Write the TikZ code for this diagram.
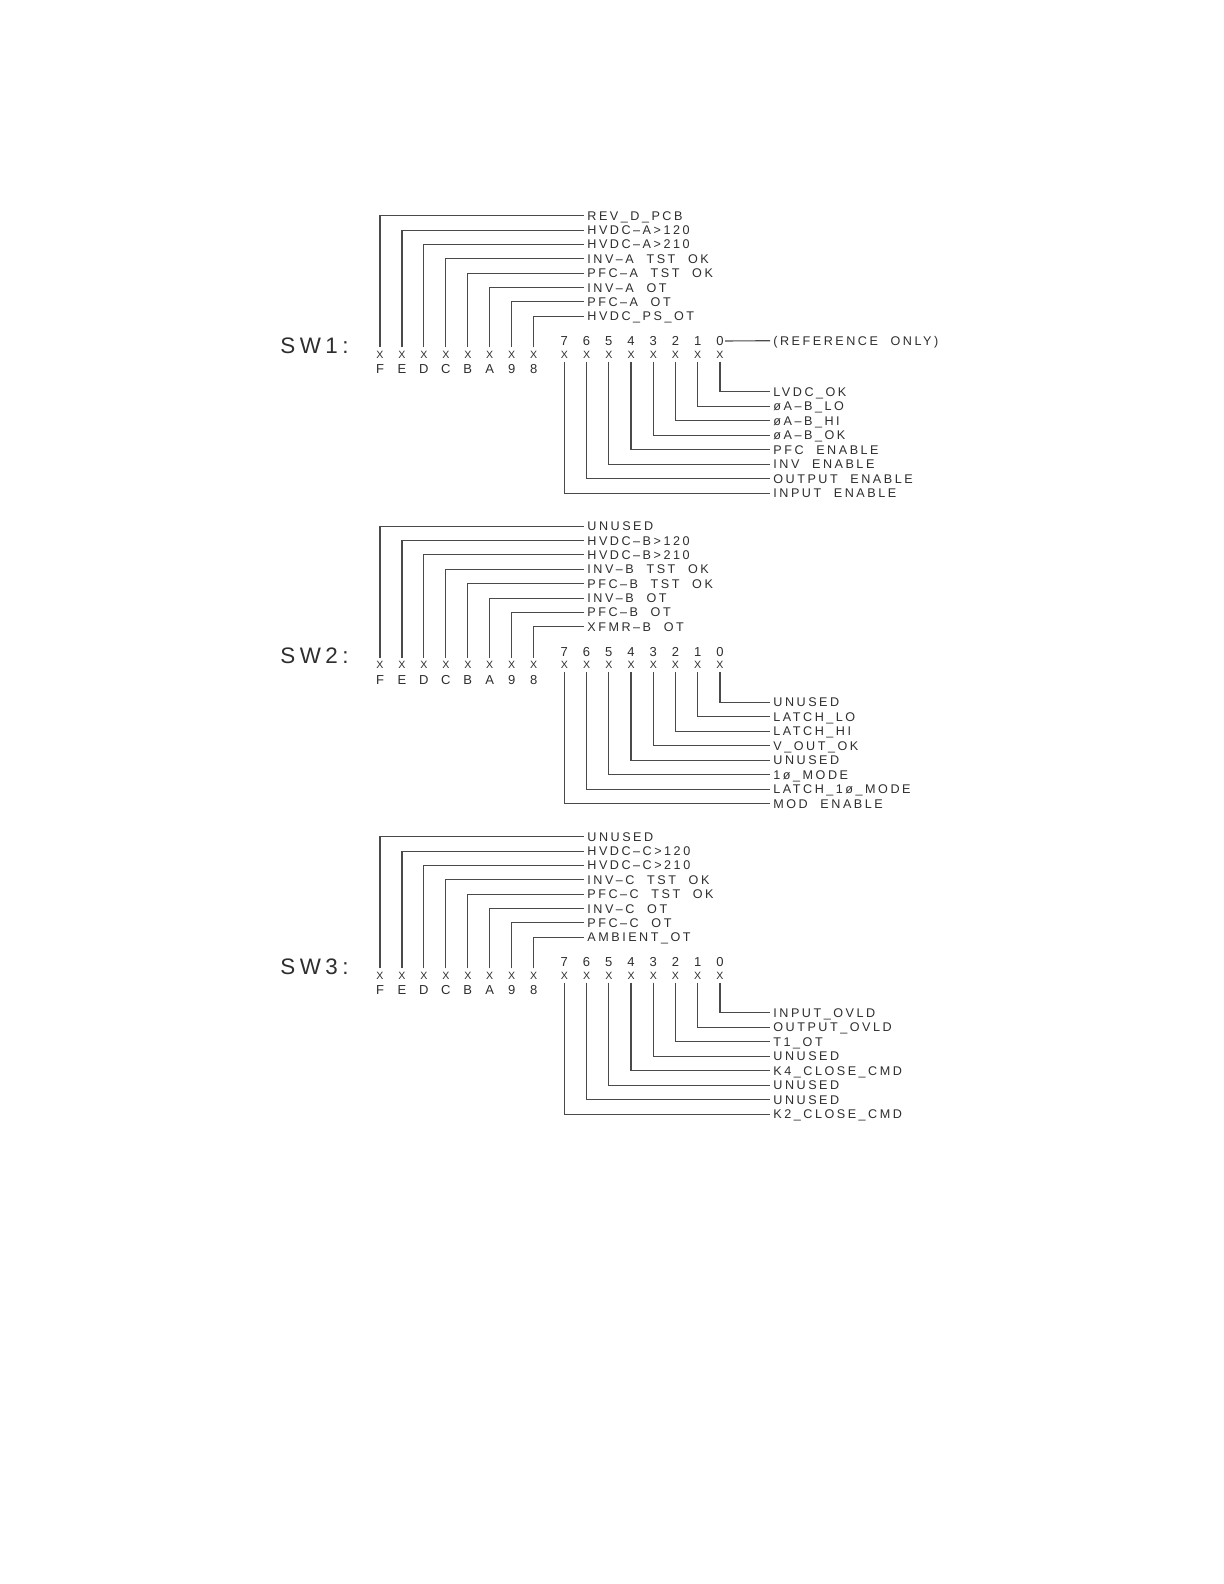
\documentclass[tikz,border=0pt]{standalone}
\usepackage{fontspec}
\newfontfamily\cadfont[LetterSpace=20, WordSpace=2.1]{Liberation Sans}
\newfontfamily\cadchar{Liberation Sans}
\usetikzlibrary{positioning}
\definecolor{WireGray}{HTML}{4A4A4A}
\definecolor{InkGray}{HTML}{2E2E2E}
\tikzset{
  wire/.style={draw=WireGray, line width=0.55pt},
  sig/.style={font=\cadfont\fontsize{6.3}{7}\selectfont, text=InkGray, anchor=west, inner xsep=1.5pt, inner ysep=0pt, text height=4.5pt, text depth=0pt},
  bitchar/.style={font=\cadchar\fontsize{6.5}{7}\selectfont, text=InkGray, inner sep=0.5pt, text height=4.6pt, text depth=0pt},
  xmark/.style={font=\cadchar\fontsize{5.3}{6}\selectfont, text=InkGray, inner xsep=0.5pt, inner ysep=1.5pt, text height=3.8pt, text depth=0pt},
  swname/.style={font=\cadfont\fontsize{11.2}{13}\selectfont, text=InkGray, anchor=west, inner sep=0pt, text height=8pt, text depth=0pt}
}

\begin{document}
\begin{tikzpicture}[x=0.5pt, y=-0.5pt]
  \useasboundingbox[fill=white] (0,0) rectangle (1224,1584);

  \foreach \n/\oy/\uplist/\lowlist in {
    1/0/{REV\_D\_PCB,HVDC–A>120,HVDC–A>210,INV–A TST OK,PFC–A TST OK,INV–A OT,PFC–A OT,HVDC\_PS\_OT}/{LVDC\_OK,øA–B\_LO,øA–B\_HI,øA–B\_OK,PFC ENABLE,INV ENABLE,OUTPUT ENABLE,INPUT ENABLE},
    2/310.5/{UNUSED,HVDC–B>120,HVDC–B>210,INV–B TST OK,PFC–B TST OK,INV–B OT,PFC–B OT,XFMR–B OT}/{UNUSED,LATCH\_LO,LATCH\_HI,V\_OUT\_OK,UNUSED,1ø\_MODE,LATCH\_1ø\_MODE,MOD ENABLE},
    3/621/{UNUSED,HVDC–C>120,HVDC–C>210,INV–C TST OK,PFC–C TST OK,INV–C OT,PFC–C OT,AMBIENT\_OT}/{INPUT\_OVLD,OUTPUT\_OVLD,T1\_OT,UNUSED,K4\_CLOSE\_CMD,UNUSED,UNUSED,K2\_CLOSE\_CMD}}
  {
    \node[swname] (sw\n) at (280, 345+\oy) {SW\n:};

    % upper byte F..8
    \foreach \b [count=\i from 0] in {F,E,D,C,B,A,9,8} {
      \node[xmark] (x\n-\b) at (380+21.95*\i, 354.5+\oy) {X};
      \node[bitchar] (n\n-\b) at (380+21.95*\i, 369+\oy) {\b};
    }
    \foreach \t [count=\i from 0] in \uplist
      \node[sig] (u\n-\i) at (584, 215.7+14.37*\i+\oy) {\t};
    \foreach \b [count=\i from 0] in {F,E,D,C,B,A,9,8}
      \draw[wire] (x\n-\b.north) |- (u\n-\i.west);

    % lower byte 7..0
    \foreach \d in {0,...,7} {
      \node[bitchar] (d\n-\d) at (720-22.24*\d, 341+\oy) {\d};
      \node[xmark] (x\n-\d) at (720-22.24*\d, 354.5+\oy) {X};
    }
    \foreach \t [count=\i from 0] in \lowlist
      \node[sig] (l\n-\i) at (770, 391.7+14.5*\i+\oy) {\t};
    \foreach \d in {0,...,7}
      \draw[wire] (x\n-\d.south) |- (l\n-\d.west);
  }

  \node[sig] (refonly) at (770, 340.7) {(REFERENCE ONLY)};
  \draw[wire] (d1-0.east) -- (refonly.west);
\end{tikzpicture}
\end{document}
